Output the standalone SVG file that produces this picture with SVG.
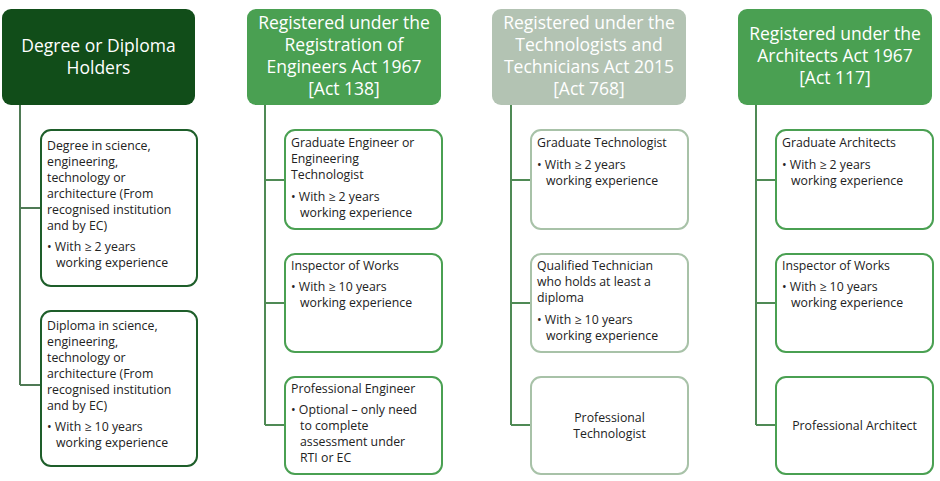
<svg xmlns="http://www.w3.org/2000/svg" width="940" height="481" viewBox="0 0 940 481">
<style>
text{font-family:"Open Sans","Liberation Sans",sans-serif}
.h{font-size:17.5px;fill:#fff;text-anchor:middle}
.t{font-size:12.3px;fill:#222}
.c{fill:#fff;stroke-width:2}
.ln{fill:none;stroke-width:2}
</style>
<rect width="940" height="481" fill="#fff"/>
<g id="connectors">
<path class="ln" stroke="#4f7a55" d="M20 105V385M20 208H40M20 385H40"/>
<path class="ln" stroke="#4f8a55" d="M265 105V425M265 180H285M265 303H285M265 425H285"/>
<path class="ln" stroke="#4f8a55" d="M511 105V425M511 180H531M511 303H531M511 425H531"/>
<path class="ln" stroke="#4f8a55" d="M756 105V425M756 180H776M756 303H776M756 425H776"/>
</g>
<g id="h1"><rect x="2" y="9" width="193" height="96" rx="9" fill="#114d19"/>
<text class="h" x="98.5" y="52">Degree or Diploma</text><text class="h" x="98.5" y="74">Holders</text></g>
<g id="h2"><rect x="247" y="9" width="194" height="96" rx="9" fill="#4aa052"/>
<text class="h" x="344" y="29">Registered under the</text><text class="h" x="344" y="51">Registration of</text><text class="h" x="344" y="73">Engineers Act 1967</text><text class="h" x="344" y="95">[Act 138]</text></g>
<g id="h3"><rect x="492" y="9" width="194" height="96" rx="9" fill="#b3c3b3"/>
<text class="h" x="589" y="29">Registered under the</text><text class="h" x="589" y="51">Technologists and</text><text class="h" x="589" y="73">Technicians Act 2015</text><text class="h" x="589" y="95">[Act 768]</text></g>
<g id="h4"><rect x="738" y="9" width="194" height="96" rx="9" fill="#4aa052"/>
<text class="h" x="835" y="40">Registered under the</text><text class="h" x="835" y="62">Architects Act 1967</text><text class="h" x="835" y="84">[Act 117]</text></g>

<g id="c1a"><rect class="c" x="41" y="130" width="156" height="156" rx="10" stroke="#1e5e2a"/>
<text class="t" x="47" y="150">Degree in science,</text><text class="t" x="47" y="166">engineering,</text><text class="t" x="47" y="182">technology or</text><text class="t" x="47" y="198">architecture (From</text><text class="t" x="47" y="214">recognised institution</text><text class="t" x="47" y="230">and by EC)</text>
<text class="t" x="47" y="251">• With ≥ 2 years</text><text class="t" x="56" y="267">working experience</text></g>
<g id="c1b"><rect class="c" x="41" y="311" width="156" height="155" rx="10" stroke="#1e5e2a"/>
<text class="t" x="47" y="330">Diploma in science,</text><text class="t" x="47" y="346">engineering,</text><text class="t" x="47" y="362">technology or</text><text class="t" x="47" y="378">architecture (From</text><text class="t" x="47" y="394">recognised institution</text><text class="t" x="47" y="410">and by EC)</text>
<text class="t" x="47" y="431">• With ≥ 10 years</text><text class="t" x="56" y="447">working experience</text></g>

<g id="c2a"><rect class="c" x="285" y="130" width="157" height="99" rx="10" stroke="#4aa052"/>
<text class="t" x="291" y="147">Graduate Engineer or</text><text class="t" x="291" y="163">Engineering</text><text class="t" x="291" y="179">Technologist</text>
<text class="t" x="291" y="201">• With ≥  2 years</text><text class="t" x="300" y="217">working experience</text></g>
<g id="c2b"><rect class="c" x="285" y="254" width="157" height="98" rx="10" stroke="#4aa052"/>
<text class="t" x="291" y="270">Inspector of Works</text>
<text class="t" x="291" y="291">• With ≥  10 years</text><text class="t" x="300" y="307">working experience</text></g>
<g id="c2c"><rect class="c" x="285" y="377" width="157" height="97" rx="10" stroke="#4aa052"/>
<text class="t" x="291" y="393">Professional Engineer</text>
<text class="t" x="291" y="414">• Optional – only need</text><text class="t" x="300" y="430">to complete</text><text class="t" x="300" y="446">assessment under</text><text class="t" x="300" y="462">RTI or EC</text></g>

<g id="c3a"><rect class="c" x="531" y="130" width="157" height="99" rx="10" stroke="#a8c2a8"/>
<text class="t" x="537" y="147">Graduate Technologist</text>
<text class="t" x="537" y="169">• With ≥ 2 years</text><text class="t" x="546" y="185">working experience</text></g>
<g id="c3b"><rect class="c" x="531" y="254" width="157" height="98" rx="10" stroke="#a8c2a8"/>
<text class="t" x="537" y="270">Qualified Technician</text><text class="t" x="537" y="286">who holds at least a</text><text class="t" x="537" y="302">diploma</text>
<text class="t" x="537" y="324">• With ≥ 10 years</text><text class="t" x="546" y="340">working experience</text></g>
<g id="c3c"><rect class="c" x="531" y="377" width="157" height="97" rx="10" stroke="#a8c2a8"/>
<text class="t" x="609.5" y="422" text-anchor="middle">Professional</text><text class="t" x="609.5" y="438" text-anchor="middle">Technologist</text></g>

<g id="c4a"><rect class="c" x="776" y="130" width="157" height="99" rx="10" stroke="#4aa052"/>
<text class="t" x="782" y="147">Graduate Architects</text>
<text class="t" x="782" y="169">• With ≥ 2 years</text><text class="t" x="791" y="185">working experience</text></g>
<g id="c4b"><rect class="c" x="776" y="254" width="157" height="98" rx="10" stroke="#4aa052"/>
<text class="t" x="782" y="270">Inspector of Works</text>
<text class="t" x="782" y="291">• With ≥  10 years</text><text class="t" x="791" y="307">working experience</text></g>
<g id="c4c"><rect class="c" x="776" y="377" width="157" height="97" rx="10" stroke="#4aa052"/>
<text class="t" x="854.5" y="430" text-anchor="middle">Professional Architect</text></g>
</svg>
